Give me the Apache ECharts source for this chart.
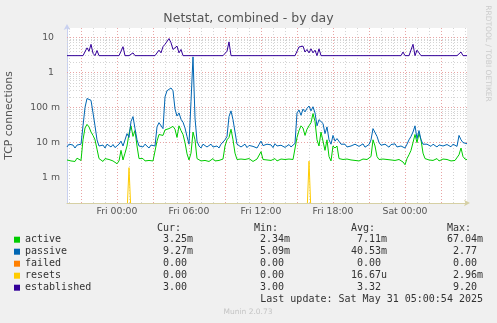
<!DOCTYPE html>
<html><head><meta charset="utf-8">
<script src="https://cdn.jsdelivr.net/npm/echarts@6/dist/echarts.min.js"></script>
<style>html,body{margin:0;padding:0;background:#f0f0f0}#c{width:497px;height:323px}</style>
</head><body><div id="c"></div><script>
// ---- time axis: 10-minute slots from Thu 19:50 to Sat 05:10 ----
const DAYS = ['Thu', 'Fri', 'Sat'];
const START_MIN = 19 * 60 + 50;
const STEP_MIN = 10;
const N_SLOTS = 201;
const X_TICK_LABELS = ['Fri 00:00', 'Fri 06:00', 'Fri 12:00', 'Fri 18:00', 'Sat 00:00'];

// ---- y axis (log) ----
const Y_MIN = 1.9e-4;
const Y_MAX = 18.4;
const Y_TICK_VALUES = [0.001, 0.01, 0.1, 1, 10];
const Y_TICK_LABELS = ['1 m', '10 m', '100 m', '1', '10'];

const SERIES_NAMES = ['active', 'passive', 'failed', 'resets', 'established'];
const SERIES_COLORS = ['#00cc00', '#0066b3', '#ff8000', '#ffcc00', '#330099'];

// values in milli-connections
const ACTIVE_M = [
  3.2, 3.5, 3.0, 3.4, 2.9, 3.6, 3.3, 3.1,
  12, 26, 33, 28, 20, 16, 12, 6.5, 3.5,
  3.3, 2.9, 3.5, 3.1, 3.3, 3.6, 3.0, 3.2, 2.5, 3.0,
  6, 3.2, 5, 8, 18, 30, 15, 22, 8, 3.5,
  3.2, 3.5, 3.0, 3.3, 3.1, 3.4, 3.0, 3.3,
  11, 17, 19, 16, 23, 21, 25, 22, 29, 24, 14, 30, 22, 17, 10, 4.8, 3.2, 5, 20, 12, 3.5,
  3.2, 3.0, 3.4, 3.1, 3.3, 2.9, 3.2, 3.5, 3.0, 3.3, 3.1, 3.2, 3.4,
  8, 12, 14, 24, 12, 5, 3.3,
  3.2, 3.4, 3.0, 3.3, 3.1, 3.5, 3.2, 2.9, 3.3, 3.4, 3.1, 5.5, 3.3, 3.0, 3.2, 3.4, 3.1, 3.3, 3.5, 3.0, 3.2, 3.4, 3.1, 3.3, 3.0, 3.4, 3.2, 3.3, 3.1,
  14, 22, 30, 26, 16, 24, 30, 37, 67.04, 40, 12, 8, 20, 22, 6, 12, 4, 3, 8, 7, 8, 3.5, 3.2,
  3.3, 3.1, 3.4, 3.0, 3.2, 3.5, 3.1, 3.3, 3.0, 3.2, 3.4, 3.1, 3.3, 3.5,
  4, 12, 8, 4, 3.3,
  3.2, 3.4, 3.1, 3.3, 3.0, 3.2, 3.4, 3.1, 2.9, 3.3,
  3.1, 2.8, 2.34, 3.5, 4.5, 6, 10, 17, 10, 18, 12, 5, 3.5, 3.3,
  3.2, 3.4, 3.1, 3.3, 3.5, 3.0, 3.2, 3.4, 3.1, 3.3, 3.2, 3.0, 3.4, 3.1, 3.3,
  4.5, 7, 4, 3.4, 3.25
];
const PASSIVE_M = [
  7.5, 9, 8, 8.5, 7, 8.5, 8, 9,
  30, 100, 180, 200, 160, 70, 30, 12, 8,
  7.8, 8.5, 7, 9, 8, 7.5, 8.8, 7.2, 8, 9,
  11, 8, 9, 18, 14, 40, 55, 25, 12, 8,
  8.5, 7.5, 9, 8, 7, 8.5, 9.5, 8,
  28, 37, 35, 25, 200, 300, 340, 360, 300, 90, 57, 70, 46, 38, 26, 15, 9, 150, 2770, 50, 11,
  8, 7, 9, 8.5, 7.5, 8, 9, 7.5, 8.5, 8, 7, 9, 8,
  12, 15, 55, 80, 45, 20, 9,
  8.5, 7.5, 8, 9, 7.2, 8.3, 9.2, 7.8, 8, 7, 8.8, 11, 8.2, 7.4, 9, 8, 8.6, 7.2, 9.3, 8, 7.6, 8.4, 9, 7.3, 8.2, 8.8, 7.5, 8.5, 9.5,
  70, 85, 60, 90, 75, 95, 110, 80, 105, 70, 30, 45, 40, 35, 18, 28, 12, 9, 16, 11, 13, 12, 9,
  8, 9, 7.5, 8.5, 8, 7.2, 9, 8.3, 7.8, 8.6, 9.2, 7.4, 8.2, 8.8,
  12, 25, 22, 15, 10,
  8.4, 7.6, 9, 8.2, 7.4, 8.8, 8, 9.2, 7.5, 8.5,
  8, 7.5, 7, 9, 12, 15, 20, 30, 13, 22, 12, 9, 10, 9,
  8.5, 7.8, 9, 8.2, 7.5, 8.6, 9.3, 8, 7.4, 8.8, 8.2, 7.6, 9, 8.3, 7.8,
  16, 12, 10, 9, 9.27
];
const FAILED_M = [
  0,0,0,0,0,0,0,0,0,0, 0,0,0,0,0,0,0,0,0,0, 0,0,0,0,0,0,0,0,0,0, 0,0,0,0,0,0,0,0,0,0,
  0,0,0,0,0,0,0,0,0,0, 0,0,0,0,0,0,0,0,0,0, 0,0,0,0,0,0,0,0,0,0, 0,0,0,0,0,0,0,0,0,0,
  0,0,0,0,0,0,0,0,0,0, 0,0,0,0,0,0,0,0,0,0, 0,0,0,0,0,0,0,0,0,0, 0,0,0,0,0,0,0,0,0,0,
  0,0,0,0,0,0,0,0,0,0, 0,0,0,0,0,0,0,0,0,0, 0,0,0,0,0,0,0,0,0,0, 0,0,0,0,0,0,0,0,0,0,
  0,0,0,0,0,0,0,0,0,0, 0,0,0,0,0,0,0,0,0,0, 0,0,0,0,0,0,0,0,0,0, 0,0,0,0,0,0,0,0,0,0,
  0
];
const RESETS_M = [
  0,0,0,0,0,0,0,0,0,0, 0,0,0,0,0,0,0,0,0,0, 0,0,0,0,0,0,0,0,0,0, 0,1.93,0,0,0,0,0,0,0,0,
  0,0,0,0,0,0,0,0,0,0, 0,0,0,0,0,0,0,0,0,0, 0,0,0,0,0,0,0,0,0,0, 0,0,0,0,0,0,0,0,0,0,
  0,0,0,0,0,0,0,0,0,0, 0,0,0,0,0,0,0,0,0,0, 0,0,0,0,0,0,0,0,0,0, 0,0,0,0,0,0,0,0,0,0,
  0,0,0,0,0,0,0,0,0,0, 0,0,0,0,0,0,0,0,0,0, 0,0,0,0,0,0,0,0,0,0, 0,0,0,0,0,0,0,0,0,0,
  0,0,0,0,0,0,0,0,0,0, 0,0,0,0,0,0,0,0,0,0, 0,0,0,0,0,0,0,0,0,0, 0,0,0,0,0,0,0,0,0,0,
  0
];
RESETS_M[121] = 2.96;
const ESTABLISHED = [
  3,3,3,3,3,3,3,3,3,3,
  5.0,4.0,6.3,3.5,3,4.2,3,3,3,3,
  3,3,3,3,3,3,3,4,5.4,3,
  3,3,3,3.6,3,3,3,3,3,3,
  3,3,3,3,3,3.3,4.3,3.6,5.4,6.3,
  7,9.2,7,4.5,4.0,5.6,3.6,4.5,3,3,
  3,3,3,3,3,3,3,3,3,3,
  3,3,3,3,3,3,3,3,3,3,
  4,7.4,3,3,3,3,3,3,3,3,
  3,3,3,3,3,3,3,3,3,3,
  3,3,3,3,3,3,3,3,3,3,
  3,3,3,3,3,3.2,5.3,5.9,5.6,3.8,
  4.5,3.6,4.7,3.6,4.3,3,4.7,3,3,3,
  3,3,3,3,3,3,3,3,3,3,
  3,3,3,3,3,3,3,3,3,3,
  3,3,3,3,3,3,3,3,3,3,
  3,3,3,3,3,3,3,3,3.8,3,
  3,3,3,6.3,3,4.3,3.6,3,3,3,
  3,3,3,3,3,3,3,3,3,3,
  3,3,3,3,3,3,3,3.8,3,3,
  3
];

// legend table
const COL_CUR = ['3.25m', '9.27m', '0.00 ', '0.00 ', '3.00 '];
const COL_MIN = ['2.34m', '5.09m', '0.00 ', '0.00 ', '3.00 '];
const COL_AVG = ['7.11m', '40.53m', '0.00 ', '16.67u', '3.32 '];
const COL_MAX = ['67.04m', '2.77 ', '0.00 ', '2.96m', '9.20 '];
const COL_HEADERS = ['Cur:', 'Min:', 'Avg:', 'Max:'];
const LAST_UPDATE = 'Last update: Sat May 31 05:00:54 2025';

// ---- build ----
const pad2 = n => (n < 10 ? '0' : '') + n;
const slotMin = i => START_MIN + i * STEP_MIN;
const CATEGORIES = [];
for (let i = 0; i < N_SLOTS; i++) {
  const t = slotMin(i);
  CATEGORIES.push(DAYS[Math.floor(t / 1440)] + ' ' + pad2(Math.floor((t % 1440) / 60)) + ':' + pad2(t % 60));
}
const milli = arr => arr.map(v => v / 1000);
// zero has no place on a log axis: draw it just below the plot floor (clipped away)
const LOG_FLOOR = Y_MIN / 2;
const onLog = arr => arr.map(v => (v > 0 ? v : LOG_FLOOR));

const GRID_MINOR = '#d4d4d4';
const GRID_MAJOR = '#e8a4a4';
const lineGrid = [];
for (let e = -4; e <= 1; e++) {
  for (let m = 2; m <= 9; m++) {
    const v = Number((m * Math.pow(10, e)).toPrecision(6));
    if (v > Y_MIN && v < Y_MAX) lineGrid.push({ yAxis: v, lineStyle: { color: GRID_MINOR } });
  }
}
for (let i = 0; i < N_SLOTS; i++) {
  const t = slotMin(i);
  if (t % 60 === 0 && t % 180 !== 0) lineGrid.push({ xAxis: CATEGORIES[i], lineStyle: { color: GRID_MINOR } });
}
Y_TICK_VALUES.forEach(v => lineGrid.push({ yAxis: v, lineStyle: { color: GRID_MAJOR } }));
for (let i = 0; i < N_SLOTS; i++) {
  if (slotMin(i) % 180 === 0) lineGrid.push({ xAxis: CATEGORIES[i], lineStyle: { color: GRID_MAJOR } });
}

const SERIES_DATA = [milli(ACTIVE_M), milli(PASSIVE_M), onLog(milli(FAILED_M)), onLog(milli(RESETS_M)), ESTABLISHED];

const series = [{
  type: 'line', name: '_grid', data: [], silent: true, z: 1,
  markLine: {
    silent: true, symbol: 'none', z: 1, animation: false,
    label: { show: false }, emphasis: { disabled: true },
    lineStyle: { type: [1, 2], width: 1 },
    data: lineGrid
  }
}];
SERIES_NAMES.forEach((n, k) => {
  series.push({
    type: 'line', name: n, data: SERIES_DATA[k], showSymbol: false, z: 3,
    clip: true, silent: true,
    lineStyle: { width: 1, color: SERIES_COLORS[k] },
    itemStyle: { color: SERIES_COLORS[k] }
  });
});

const FONT_MONO = '10px "DejaVu Sans Mono"';
const graphic = [];
const ROW_Y = [239.7, 251.7, 263.7, 275.7, 287.5];
const COL_RIGHT = [193, 290, 387, 483];
const HEAD_RIGHT = [181, 278, 375, 471];
const cols = [COL_CUR, COL_MIN, COL_AVG, COL_MAX];
COL_HEADERS.forEach((h, c) => graphic.push({ type: 'text', x: HEAD_RIGHT[c], y: 228.5, silent: true,
  style: { text: h, font: FONT_MONO, fill: '#333', align: 'right', verticalAlign: 'middle' } }));
cols.forEach((col, c) => col.forEach((s, r) => graphic.push({ type: 'text', x: COL_RIGHT[c], y: ROW_Y[r], silent: true,
  style: { text: s, font: FONT_MONO, fill: '#333', align: 'right', verticalAlign: 'middle' } })));
graphic.push({ type: 'text', x: 483, y: 299.3, silent: true,
  style: { text: LAST_UPDATE, font: FONT_MONO, fill: '#333', align: 'right', verticalAlign: 'middle' } });
graphic.push({ type: 'text', x: 248, y: 312.5, silent: true,
  style: { text: 'Munin 2.0.73', font: '7.5px "DejaVu Sans"', fill: '#c4c4c4', align: 'center', verticalAlign: 'middle' } });
graphic.push({ type: 'text', x: 488, y: 53.5, rotation: -Math.PI / 2, silent: true,
  style: { text: 'RRDTOOL / TOBI OETIKER', font: '7.5px "DejaVu Sans"', fill: '#cbcbcb', align: 'center', verticalAlign: 'middle' } });

const AXIS_COLOR = '#c8d0f0';
const chart = echarts.init(document.getElementById('c'), null, { renderer: 'canvas' });
chart.setOption({
  backgroundColor: '#f0f0f0',
  animation: false,
  title: {
    text: 'Netstat, combined - by day', left: 'center', top: 12, padding: 0,
    textStyle: { fontFamily: 'DejaVu Sans', fontSize: 12.5, fontWeight: 'normal', color: '#555' }
  },
  grid: { left: 67, top: 28, width: 400, height: 175, show: true, backgroundColor: '#ffffff', borderWidth: 0,
          containLabel: false, outerBoundsMode: 'none' },
  legend: {
    orient: 'vertical', left: 14, top: 233.7, padding: 0, itemWidth: 6, itemHeight: 6, itemGap: 0,
    icon: 'rect', selectedMode: false, data: SERIES_NAMES,
    textStyle: { fontFamily: 'DejaVu Sans Mono', fontSize: 10, color: '#333', lineHeight: 12 }
  },
  xAxis: {
    type: 'category', data: CATEGORIES, boundaryGap: false, z: 5,
    axisLine: { show: true, lineStyle: { color: '#d6d0a4', width: 1 }, symbol: ['none', 'arrow'], symbolSize: [5, 6], symbolOffset: [0, 3] },
    axisTick: { show: false },
    splitLine: { show: false },
    axisLabel: {
      interval: (idx, val) => X_TICK_LABELS.includes(val),
      margin: 4, color: '#555', fontFamily: 'DejaVu Sans', fontSize: 9.3
    }
  },
  yAxis: {
    type: 'log', logBase: 10, min: Y_MIN, max: Y_MAX, splitNumber: 5,
    name: 'TCP connections', nameLocation: 'middle', nameRotate: 90, nameGap: 52,
    nameTextStyle: { fontFamily: 'DejaVu Sans', fontSize: 10.8, color: '#555' },
    axisLine: { show: true, lineStyle: { color: AXIS_COLOR, width: 1 }, symbol: ['none', 'arrow'], symbolSize: [5, 6], symbolOffset: [0, 4] },
    axisTick: { show: false },
    splitLine: { show: false },
    minorSplitLine: { show: false },
    axisLabel: {
      margin: 7, color: '#555', fontFamily: 'DejaVu Sans', fontSize: 9.3,
      showMinLabel: true, showMaxLabel: true,
      formatter: v => {
        const k = Y_TICK_VALUES.findIndex(t => Math.abs(Math.log10(v) - Math.log10(t)) < 1e-6);
        if (k < 0) return '';
        const s = Y_TICK_LABELS[k];
        return s.indexOf('m') >= 0 ? s : '{p|' + s + '}';
      },
      rich: { p: { padding: [0, 6, 0, 0], color: '#555', fontFamily: 'DejaVu Sans', fontSize: 9.3 } }
    }
  },
  graphic: graphic,
  series: series
});
</script></body></html>
